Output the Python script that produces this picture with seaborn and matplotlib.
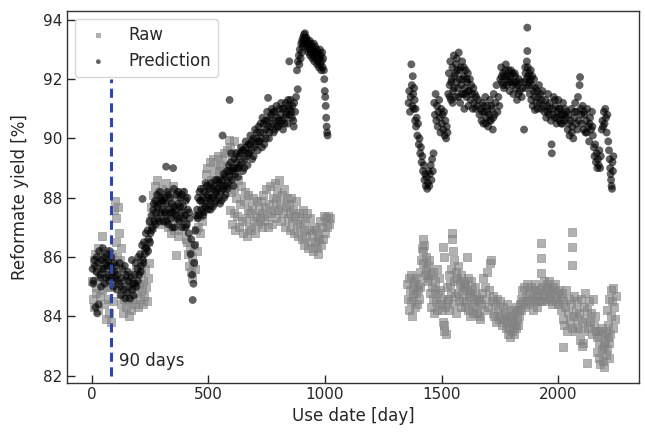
import matplotlib
matplotlib.use("Agg")
import matplotlib.pyplot as plt
import pandas as pd
import seaborn as sns

# ---- raw reformate yield, first run (day, %)
raw_day_a = [2, 5, 8, 11, 14, 17, 20, 23, 26, 29, 32, 35, 38, 41, 43, 46, 49, 52, 55, 58, 61, 64, 67, 70, 73,
             76, 79, 82, 85, 88, 91, 94, 97, 100, 103, 106, 109, 112, 115, 118, 121, 124,
             127, 130, 134, 138, 142, 146, 150, 154, 158, 162, 166, 170, 174, 178, 182, 186, 190, 194, 198,
             202, 206, 210, 214, 218, 222, 226, 230, 234, 238, 242, 246, 212, 228, 240,
             250, 254, 258, 262, 266, 270, 274, 278, 282, 286, 290, 294, 298, 302, 306, 310, 314, 318,
             322, 326, 330, 334, 338, 342, 346, 350, 354, 358, 361, 364, 368, 372, 376, 380, 384, 388, 392,
             396, 400, 404, 408, 412, 416, 420, 424, 428, 432, 436, 440, 444, 448, 452, 456, 460, 464, 468,
             472, 476, 480, 484, 488, 492, 496, 500, 504, 508, 512, 516, 520, 524, 528, 532, 536, 540, 544,
             548, 552, 556, 560, 564, 568, 572, 576, 580, 587, 593, 600, 610, 618,
             584, 588, 592, 596, 600, 604, 608, 612, 616, 620, 624, 628, 632, 636, 640, 644, 648, 652, 656,
             660, 664, 668, 672, 676, 680, 684, 688, 692, 696, 700, 704, 708, 712, 716,
             720, 724, 728, 732, 736, 740, 744, 748, 752, 756, 760, 764, 768, 772, 776, 780, 784, 788, 792,
             796, 800, 804, 808, 812, 816, 820, 824, 828, 832, 836, 840, 844, 848, 852, 856, 860, 864, 868,
             872, 876, 880, 884, 888, 892, 896, 900, 904, 908, 912, 916, 920, 924, 928, 932, 936, 940, 944,
             948, 952, 956, 960, 964, 968, 972, 976, 980, 984, 988, 992, 996, 1000, 1004, 1008, 1012, 1016, 1020]
raw_val_a = [85.2, 84.6, 85.9, 84.3, 86.1, 85.0, 84.8, 85.6, 84.2, 86.3, 85.3, 84.7, 86.0, 85.5, 86.7, 84.9, 85.8, 84.4, 85.2, 86.2, 83.9, 85.0, 85.7, 84.6, 85.4,
             84.1, 85.8, 83.8, 85.0, 86.1, 84.5, 85.3, 87.6, 87.9, 86.5, 87.3, 86.0, 87.7, 85.6, 86.8, 85.9, 86.3,
             84.4, 84.8, 84.1, 84.6, 85.0, 84.3, 84.7, 85.4, 84.0, 84.5, 84.9, 84.2, 85.3, 84.6, 85.0, 84.4, 85.6, 84.8, 84.3,
             85.1, 84.6, 85.5, 84.9, 84.4, 85.2, 84.7, 85.6, 85.0, 84.5, 85.3, 85.8, 85.9, 86.2, 86.5,
             87.2, 87.7, 87.0, 88.1, 87.5, 88.4, 87.3, 87.9, 88.6, 87.6, 88.2, 87.1, 87.8, 88.3, 87.4, 88.0, 87.2, 88.5,
             87.7, 87.0, 88.2, 87.5, 86.8, 87.9, 87.3, 88.4, 86.9, 87.6, 86.07, 88.1, 87.2, 86.7, 87.8, 87.4, 88.2, 86.9, 87.5,
             88.0, 87.1, 86.6, 86.5, 86.1, 85.7, 86.3, 85.5, 86.0, 85.3, 85.8, 86.4, 85.6, 86.9, 86.2, 87.0, 87.4, 86.8, 87.6,
             87.2, 87.9, 88.3, 87.7, 88.8, 88.0, 89.0, 88.4, 87.8, 89.2, 88.6, 88.1, 89.3, 88.7, 88.2, 89.0, 88.5, 89.4, 88.9,
             88.3, 89.1, 88.6, 89.3, 88.8, 89.5, 88.4, 89.0, 89.6, 89.95, 89.7, 89.4, 89.9, 89.5,
             88.5, 88.9, 87.6, 88.2, 87.1, 88.7, 87.5, 88.3, 86.9, 88.0, 87.4, 88.6, 87.0, 87.8, 88.4, 87.2, 86.8, 87.9, 88.2,
             87.3, 86.7, 87.6, 88.1, 87.0, 87.5, 86.9, 87.7, 88.0, 87.2, 86.8, 87.4, 87.9, 87.1, 87.6,
             87.3, 87.9, 87.0, 87.5, 88.1, 87.2, 87.7, 88.3, 87.4, 87.0, 87.8, 88.4, 87.5, 87.1, 88.0, 87.6, 88.5, 87.3, 87.9,
             88.2, 87.6, 88.6, 87.8, 87.2, 88.1, 87.5, 88.3, 87.0, 87.7, 88.0, 87.3, 87.8, 86.9, 87.5, 88.0, 87.2, 87.6, 86.8,
             87.4, 87.9, 87.1, 86.7, 87.5, 87.0, 87.3, 86.6, 87.6, 86.9, 86.4, 87.2, 86.7, 87.5, 86.3, 86.9, 87.3, 86.5, 86.8,
             86.2, 87.0, 86.5, 86.9, 86.3, 86.7, 86.1, 86.6, 87.2, 86.4, 87.0, 86.6, 87.4, 86.8, 87.3, 87.0, 87.4, 87.1, 87.3]

# ---- raw reformate yield, second run
raw_day_b = [1352, 1355, 1358, 1361, 1364, 1367, 1370, 1373, 1376, 1379, 1382, 1385, 1388, 1391, 1394, 1397, 1400, 1403, 1406,
             1409, 1412, 1415, 1418, 1420, 1422, 1425, 1428, 1431, 1434, 1437, 1440, 1443, 1446,
             1449, 1452, 1455, 1458, 1461, 1464, 1467, 1470, 1473, 1476, 1479, 1482, 1485, 1488, 1491, 1494,
             1500, 1503, 1506, 1507, 1509, 1510, 1512, 1515, 1518, 1521,
             1524, 1527, 1530, 1533, 1536, 1539, 1542, 1545, 1546, 1548, 1550, 1551, 1554, 1557, 1560, 1563, 1566,
             1569, 1572, 1575, 1578, 1581, 1584, 1587, 1590, 1593, 1596, 1599,
             1602, 1605, 1607, 1608, 1611, 1614, 1617, 1620, 1623, 1626, 1629, 1632, 1635, 1638, 1641, 1644, 1647, 1650,
             1654, 1658, 1662, 1666, 1670, 1674, 1678, 1682, 1686, 1690, 1694, 1698, 1702, 1706, 1710, 1714, 1718,
             1722, 1726, 1730, 1734, 1738, 1742, 1746, 1750, 1754, 1758, 1762, 1766, 1770, 1774, 1778,
             1781, 1784, 1787, 1790, 1793, 1796, 1799, 1802, 1805, 1808, 1811, 1814, 1817, 1820, 1823, 1826, 1829, 1832, 1835,
             1838, 1842, 1846, 1850, 1854, 1858, 1862, 1866, 1870, 1874, 1878, 1882, 1886, 1890, 1894, 1898, 1902, 1906,
             1910, 1914, 1918, 1924, 1924, 1924,
             1922, 1926, 1930, 1934, 1938, 1942, 1946, 1950, 1954, 1958, 1962, 1966, 1970, 1974, 1978, 1982, 1986, 1990,
             1994, 1998, 2002, 2006, 2057, 2057, 2057,
             2010, 2014, 2018, 2019, 2022, 2026, 2030, 2034, 2038, 2042, 2046, 2050, 2054, 2058, 2062, 2066, 2070, 2074,
             2078, 2082, 2086, 2090,
             2094, 2097, 2100, 2103, 2106, 2109, 2112, 2115, 2118, 2121, 2124, 2128, 2132, 2136, 2140, 2144, 2148, 2152,
             2156, 2160,
             2164, 2167, 2170, 2173, 2176, 2179, 2182, 2185, 2188, 2191, 2194, 2197, 2200, 2203, 2206, 2209, 2212, 2215, 2218,
             2210, 2214, 2218, 2221, 2224, 2227, 2230, 2233, 2236, 2239, 2242, 2245]
raw_val_b = [85.1, 84.6, 85.3, 84.2, 84.9, 85.4, 84.5, 84.0, 85.0, 84.7, 85.2, 84.3, 84.8, 85.3, 84.4, 84.9, 85.1, 84.6, 85.0,
             85.5, 85.9, 86.3, 86.6, 86.2, 85.8, 86.4, 85.4, 86.0, 85.6, 85.2, 85.7, 85.3, 85.9,
             84.8, 85.4, 84.3, 85.0, 84.6, 85.5, 84.1, 84.9, 85.2, 84.5, 85.6, 84.2, 84.8, 85.3, 84.4, 84.9,
             84.6, 84.2, 83.8, 86.35, 83.5, 86.0, 83.7, 84.3, 83.4, 84.5,
             85.0, 84.6, 85.4, 84.2, 85.1, 84.8, 85.6, 86.8, 86.6, 84.4, 86.2, 85.2, 85.9, 84.7, 85.5, 84.1, 85.3,
             84.8, 85.7, 84.5, 85.1, 84.3, 85.4, 84.9, 85.2, 84.6, 85.0, 84.3,
             85.1, 84.5, 86.0, 84.9, 84.2, 85.3, 84.7, 84.0, 84.8, 85.2, 84.4, 84.9, 84.1, 84.6, 85.0, 84.3, 84.7, 84.1,
             84.5, 84.0, 84.6, 83.9, 84.4, 84.8, 85.3, 84.2, 85.0, 84.6, 85.5, 84.3, 84.9, 85.8, 85.9, 84.5, 84.1,
             84.7, 84.0, 84.4, 83.8, 84.6, 84.2, 83.9, 84.5, 84.0, 83.7, 84.3, 83.9, 84.1, 83.6, 84.4,
             83.8, 83.4, 84.0, 83.6, 83.3, 83.9, 84.2, 83.5, 83.8, 84.1, 83.4, 83.7, 84.3, 83.6, 83.9, 84.2, 83.7, 84.0, 84.4,
             84.6, 84.2, 84.9, 84.5, 85.0, 84.3, 84.7, 85.1, 84.4, 84.8, 84.5, 85.0, 84.6, 84.2, 84.9, 84.5, 85.1, 84.7,
             84.3, 84.8, 84.5, 86.46, 85.96, 85.46,
             84.9, 84.5, 85.0, 84.7, 85.2, 84.6, 84.9, 85.1, 84.5, 84.8, 85.2, 84.6, 84.9, 84.4, 85.0, 84.7, 85.1, 84.5,
             84.8, 84.4, 84.9, 84.6, 86.86, 86.35, 85.73,
             84.2, 84.8, 83.9, 82.98, 84.5, 83.7, 84.3, 84.9, 83.5, 84.1, 84.6, 83.8, 84.4, 83.6, 84.0, 84.7, 83.5, 84.2,
             83.9, 84.5, 83.6, 84.1,
             83.2, 84.6, 83.0, 83.8, 83.1, 84.3, 83.5, 84.8, 83.9, 82.42, 84.2, 83.6, 84.5, 83.8, 84.1, 83.4, 84.6, 83.7,
             84.0, 83.5,
             83.3, 82.8, 83.5, 82.6, 83.1, 82.4, 83.4, 82.9, 83.6, 82.5, 83.0, 82.3, 83.2, 82.7, 83.5, 82.9, 83.3, 82.6, 83.1,
             84.2, 83.7, 84.6, 83.4, 84.9, 84.0, 84.5, 83.6, 84.95, 84.3, 83.9, 84.7]

# ---- model prediction, first run
pred_day_a = [4, 8, 12, 16, 20, 24, 28, 32, 36, 40, 44, 48, 52, 56, 60, 64, 68, 72, 76, 80, 84, 88,
              6, 14, 22, 30, 38, 46, 54, 62, 70, 78, 86,
              92, 96, 100, 104, 108, 112, 116, 120, 124, 128, 132, 136, 140, 144, 148, 152, 156, 160, 164, 168,
              172, 176, 180, 184, 188, 192, 196, 200, 98, 110, 126, 142, 158, 174, 186, 198,
              204, 208, 212, 216, 218, 220, 224, 228, 232, 236, 240, 244, 248, 252, 256, 260, 264, 268, 272, 276,
              280, 284, 288, 292, 296, 300, 210, 222, 230, 242, 250, 258, 266, 274, 282, 290, 298,
              304, 308, 312, 316, 319, 320, 324, 328, 332, 336, 340, 344, 348, 349, 352, 356, 360, 364, 368, 372,
              376, 380, 384, 388, 392, 396, 400, 404, 408, 412, 416, 420,
              306, 314, 322, 330, 338, 346, 354, 362, 370, 378, 386, 394, 402, 410, 418,
              424, 427, 430, 433, 436, 439, 442, 445, 448,
              452, 456, 460, 464, 468, 472, 476, 480, 484, 488, 492, 496, 500, 504, 508, 512, 516, 520, 524, 528,
              532, 536, 540, 544, 548, 552, 556, 560, 561, 564, 568, 572, 576,
              454, 462, 470, 478, 486, 494, 502, 510, 518, 526, 534, 542, 550, 558, 566, 574,
              580, 584, 588, 591, 592, 596, 600, 604, 608, 612, 616, 620, 624, 628, 632, 636, 640, 644, 648, 652,
              656, 660, 664, 668, 672, 676, 680, 684, 688, 692, 696, 700,
              582, 590, 598, 606, 614, 622, 630, 638, 646, 654, 662, 670, 678, 686, 694,
              704, 708, 712, 716, 720, 724, 728, 732, 736, 740, 744, 748, 752, 756, 756, 760, 764, 768, 772, 776,
              780, 784, 788, 792, 796, 800, 804, 808, 812, 816, 820, 824, 828, 832, 836, 840, 844, 847, 848, 852,
              856, 860, 864, 868, 872,
              706, 714, 722, 730, 738, 746, 754, 762, 770, 778, 786, 794, 802, 810, 818, 826, 834, 842, 850, 858, 866,
              876, 880, 883, 884, 888, 890, 892, 896, 898, 900, 902, 904, 906, 908, 910, 912, 914, 916, 918, 920,
              922, 924, 926, 928, 930, 932, 934, 936, 938, 940, 942, 944, 946, 948, 950, 952, 954, 956, 958, 960,
              962, 964, 966, 968, 970, 972, 974, 976, 978, 980, 982, 984, 986, 988, 990, 992,
              995, 997, 999, 1001, 1003, 1005, 1007, 1009, 1011]
pred_val_a = [85.6, 85.2, 85.9, 84.3, 85.5, 84.1, 85.8, 86.2, 85.4, 85.0, 85.9, 86.3, 85.6, 85.1, 85.8, 86.1, 85.4, 85.9, 85.2, 85.7, 86.0, 85.5,
              85.1, 85.7, 86.0, 84.4, 85.3, 85.6, 86.0, 85.3, 85.7, 86.2, 85.3,
              85.0, 85.8, 85.3, 85.7, 84.9, 85.4, 85.1, 85.8, 84.7, 85.3, 85.6, 84.9, 85.2, 84.6, 85.4, 84.8, 85.5, 85.0, 84.6, 85.3,
              85.9, 85.1, 84.7, 85.4, 85.8, 85.0, 85.6, 86.0, 85.5, 85.2, 85.0, 85.7, 85.2, 84.9, 85.1, 85.2,
              85.4, 86.1, 85.7, 86.4, 87.96, 85.9, 86.5, 86.1, 86.8, 86.3, 86.9, 86.6, 87.2, 86.8, 87.4, 87.0, 87.6, 87.2, 87.9, 87.5,
              88.1, 87.3, 87.8, 88.2, 87.5, 87.9, 85.5, 85.8, 86.3, 86.2, 86.5, 86.9, 87.8, 87.1, 87.7, 87.2, 88.0,
              87.6, 87.2, 88.0, 87.4, 89.05, 87.8, 88.2, 87.1, 87.6, 88.0, 87.3, 87.8, 87.5, 89.0, 88.3, 87.0, 87.6, 88.1, 87.3, 87.8,
              87.2, 88.0, 87.5, 87.0, 87.7, 88.2, 87.4, 87.9, 87.1, 87.6, 86.8, 87.3,
              87.9, 87.5, 87.2, 88.1, 87.5, 87.0, 87.7, 87.4, 88.2, 87.7, 88.1, 87.3, 87.0, 88.0, 87.5,
              86.1, 86.6, 85.4, 84.55, 85.1, 85.8, 86.4, 86.9, 87.4,
              87.6, 88.0, 87.4, 87.9, 88.3, 87.6, 88.0, 87.5, 88.2, 88.5, 87.8, 88.1, 87.6, 88.3, 87.9, 88.5, 88.0, 87.7, 88.4, 88.1,
              88.6, 87.9, 88.3, 88.0, 88.5, 88.2, 87.9, 88.6, 90.1, 88.3, 88.0, 88.7, 88.4,
              87.3, 88.2, 87.9, 87.4, 87.7, 88.4, 88.0, 87.6, 88.3, 87.8, 88.2, 88.6, 87.8, 88.4, 88.8, 88.1,
              88.9, 88.5, 89.1, 91.3, 88.7, 89.2, 88.6, 89.0, 88.4, 89.3, 88.8, 89.5, 89.0, 88.7, 89.4, 89.1, 89.7, 89.2, 88.9, 89.6,
              89.3, 89.9, 89.4, 89.1, 89.8, 89.5, 90.1, 89.6, 89.3, 90.0, 89.7, 90.3,
              88.3, 88.9, 89.5, 88.9, 89.0, 89.2, 89.0, 89.5, 89.6, 89.0, 89.7, 89.5, 89.8, 89.9, 89.4,
              89.8, 90.2, 89.6, 90.4, 89.9, 90.5, 90.0, 90.7, 90.2, 89.8, 90.6, 90.3, 90.9, 91.37, 90.4, 90.0, 90.7, 90.4, 91.0, 90.5,
              90.2, 90.9, 90.6, 91.1, 90.7, 90.4, 91.0, 90.8, 91.2, 90.6, 90.3, 91.0, 90.7, 91.2, 90.9, 90.5, 91.1, 92.6, 90.8, 91.3,
              90.9, 91.1, 90.6, 91.2, 90.9,
              90.0, 89.9, 90.2, 89.7, 90.5, 90.0, 90.6, 90.2, 90.8, 90.9, 90.3, 90.4, 90.6, 90.5, 91.0, 90.5, 90.8, 91.3, 91.0, 90.7, 90.4,
              91.4, 92.3, 91.66, 92.6, 92.8, 92.5, 93.0, 92.7, 93.2, 92.9, 93.3, 93.1, 93.4, 93.2, 93.5, 93.3, 93.55, 93.4, 93.2, 93.4,
              93.1, 93.3, 93.0, 93.2, 92.9, 93.1, 93.3, 92.8, 93.0, 93.2, 92.9, 93.1, 92.7, 93.0, 92.8, 93.2, 92.6, 92.9, 93.1, 92.7,
              92.9, 93.0, 92.5, 92.8, 92.6, 92.9, 92.4, 92.7, 93.0, 92.5, 92.8, 92.3, 92.6, 92.9, 92.4, 92.7,
              92.3, 92.0, 91.6, 91.4, 91.1, 90.7, 90.4, 90.2, 90.1]

# ---- model prediction, second run
pred_day_b = [1358, 1361, 1364, 1367, 1370, 1372, 1374, 1376, 1378, 1380, 1382, 1384, 1386, 1388, 1390, 1393, 1396, 1399,
              1402, 1405, 1408, 1411, 1414, 1417, 1420, 1423, 1426, 1429, 1432, 1435, 1438, 1441, 1444, 1447, 1450,
              1453, 1456, 1459, 1462, 1465,
              1468, 1471, 1474, 1477, 1480, 1483, 1486, 1489, 1492, 1495, 1498, 1501, 1504, 1507, 1510, 1513, 1516,
              1519, 1522, 1525,
              1528, 1531, 1534, 1537, 1540, 1543, 1546, 1549, 1552, 1555, 1558, 1561, 1564, 1567, 1570, 1573, 1576,
              1579, 1582, 1585, 1588, 1591, 1594, 1597, 1600, 1603, 1606, 1609, 1612, 1615, 1618, 1621, 1624, 1627,
              1630, 1633, 1636, 1639, 1642, 1645, 1648, 1651,
              1535, 1541, 1547, 1553, 1559, 1565, 1571, 1577, 1583, 1589, 1595, 1601, 1607, 1613,
              1657, 1662, 1667, 1671, 1675, 1679, 1683, 1687, 1691, 1695, 1699, 1703, 1707, 1711, 1715, 1719, 1723,
              1727, 1731, 1735, 1739, 1743, 1747, 1673, 1681, 1689, 1697, 1705, 1713, 1721,
              1751, 1755, 1759, 1763, 1767, 1771, 1775, 1779, 1783, 1787, 1791, 1795, 1799, 1803, 1807, 1811, 1815,
              1819, 1823, 1827, 1831, 1835, 1839, 1843, 1847,
              1757, 1765, 1773, 1781, 1789, 1797, 1805, 1813, 1821, 1829,
              1853, 1856, 1859, 1862, 1865, 1867, 1867, 1869, 1872, 1875, 1878, 1881, 1884, 1887, 1890, 1893, 1896,
              1899, 1900, 1902, 1905, 1908, 1911, 1914, 1917, 1920, 1923, 1926, 1929, 1932, 1935,
              1858, 1864, 1870, 1876, 1882, 1888,
              1940, 1944, 1948, 1952, 1956, 1960, 1964, 1968, 1971, 1972, 1976, 1980, 1984, 1988, 1992, 1996, 2000,
              2004, 2008, 2012, 2016, 2020, 2024, 2028, 2032, 2036,
              1954, 1962, 1978, 1986, 1994, 2002, 2010, 2018, 2026,
              2040, 2044, 2048, 2052, 2056, 2060, 2064, 2068, 2072, 2076, 2080, 2084, 2088, 2091, 2093, 2096, 2100,
              2104, 2108, 2112, 2116, 2120, 2124, 2128, 2132, 2136, 2140, 2144, 2148,
              2046, 2058, 2070, 2082, 2098, 2110, 2122, 2134, 2146,
              2152, 2155, 2158, 2161, 2164, 2167, 2170, 2173, 2176, 2179, 2182,
              2186, 2189, 2192, 2195, 2198, 2201, 2204, 2207, 2210,
              2214, 2217, 2220, 2222, 2224, 2226, 2228, 2230, 2232, 2234, 2236]
pred_val_b = [91.2, 91.6, 90.9, 91.4, 92.5, 91.8, 91.1, 92.1, 91.5, 91.0, 91.7, 91.3, 90.6, 91.0, 90.4, 90.7, 90.1, 90.5,
              89.8, 90.0, 89.5, 89.7, 89.2, 89.4, 88.9, 89.1, 88.6, 88.8, 88.4, 88.7, 88.3, 88.5, 88.9, 88.4, 88.8,
              89.1, 88.6, 89.3, 88.9, 89.5,
              91.2, 90.8, 91.5, 90.6, 91.1, 90.4, 90.9, 91.3, 90.7, 90.2, 91.0, 90.5, 90.8, 90.3, 90.9, 90.1, 90.6,
              90.0, 90.4, 90.2,
              91.5, 92.2, 91.8, 92.6, 91.3, 92.0, 92.4, 91.6, 92.8, 92.1, 91.4, 92.5, 91.9, 92.3, 91.7, 92.9, 92.0,
              91.2, 92.4, 91.8, 92.6, 91.5, 92.1, 91.0, 91.7, 92.3, 91.4, 91.9, 92.2, 91.1, 91.6, 92.0, 91.3, 91.8,
              91.5, 91.0, 91.7, 91.2, 91.5, 91.0, 91.4, 91.1,
              91.4, 91.9, 91.2, 91.7, 92.2, 92.7, 91.4, 92.3, 91.5, 92.0, 92.4, 91.5, 92.0, 91.6,
              91.3, 90.8, 91.0, 90.6, 91.2, 90.5, 90.9, 91.4, 90.7, 91.1, 90.4, 90.8, 91.3, 90.6, 91.0, 90.3, 91.5,
              90.8, 91.2, 91.8, 90.9, 91.4, 91.1, 90.9, 91.1, 90.5, 90.9, 90.6, 91.1, 90.7,
              92.0, 92.4, 91.9, 92.2, 91.7, 92.1, 92.5, 91.8, 92.0, 92.3, 91.6, 92.1, 91.9, 92.2, 91.5, 91.9, 92.1,
              91.7, 91.3, 91.8, 92.0, 91.6, 91.9, 91.4, 91.7,
              92.1, 91.8, 92.3, 92.1, 91.9, 92.3, 91.8, 92.2, 91.9, 91.5,
              90.3, 91.9, 92.2, 91.7, 92.6, 93.74, 92.95, 92.4, 91.8, 92.2, 91.5, 92.0, 91.3, 91.8, 91.1, 91.6, 92.0,
              91.4, 90.96, 91.7, 91.2, 91.6, 91.0, 91.4, 91.8, 91.2, 91.5, 91.0, 91.3, 91.6, 91.1,
              92.4, 92.0, 92.1, 91.9, 92.3, 92.1,
              90.9, 91.3, 90.7, 91.1, 91.5, 90.8, 91.2, 90.6, 89.8, 89.5, 91.0, 91.4, 90.7, 91.1, 90.5, 90.9, 91.3,
              90.6, 91.0, 90.5, 90.8, 91.2, 90.6, 91.0, 90.7, 90.9,
              90.9, 91.0, 90.8, 91.3, 90.7, 91.0, 90.8, 90.5, 90.8,
              90.3, 90.8, 90.1, 90.6, 91.0, 90.4, 90.0, 90.7, 91.2, 90.5, 90.9, 91.4, 90.6, 91.8, 92.07, 91.0, 90.5,
              91.1, 90.3, 90.8, 90.2, 90.6, 91.0, 90.4, 89.9, 90.7, 90.3, 90.9, 90.1,
              90.5, 90.2, 90.9, 90.3, 90.8, 90.9, 90.2, 90.5, 90.4,
              89.7, 89.4, 89.8, 89.2, 89.5, 89.0, 89.3, 89.1, 89.6, 89.0, 89.4,
              90.3, 90.6, 90.4, 90.9, 90.5, 91.0, 90.7, 90.2, 90.8,
              89.9, 89.6, 89.3, 89.0, 88.8, 88.6, 88.4, 88.3, 89.2, 88.9, 89.4]

cut_day = 82  # where the dashed marker sits on the axis ("90 days")

raw = pd.DataFrame({"day": raw_day_a + raw_day_b, "yield": raw_val_a + raw_val_b})
pred = pd.DataFrame({"day": pred_day_a + pred_day_b, "yield": pred_val_a + pred_val_b})

sns.set_style("white")
plt.rcParams["font.family"] = ["DejaVu Sans"]

fig, ax = plt.subplots(figsize=(6.45, 4.32), dpi=100)
fig.subplots_adjust(left=0.1034, right=0.9912, bottom=0.1141, top=0.9752)

sns.scatterplot(data=raw, x="day", y="yield", marker="s", color="gray", alpha=0.6,
                s=30, edgecolor="gray", linewidth=0.6, label="Raw", ax=ax)
sns.scatterplot(data=pred, x="day", y="yield", marker="o", color="black", alpha=0.62,
                s=32, edgecolor="none", label="Prediction", ax=ax)

ax.vlines(cut_day, 82, 92, colors="#2f45b0", linestyles=(0, (3, 1.8)), linewidth=2.2)
ax.text(117, 82.5, "90 days", fontsize=12, va="center")

ax.set_xlim(-107, 2347)
ax.set_ylim(81.76, 94.31)
ax.set_xticks([0, 500, 1000, 1500, 2000])
ax.set_yticks([82, 84, 86, 88, 90, 92, 94])
ax.set_xlabel("Use date [day]", fontsize=12)
ax.set_ylabel("Reformate yield [%]", fontsize=12, labelpad=10)
ax.tick_params(direction="in", length=5.5, width=1, labelsize=11, pad=3,
               bottom=True, left=True, colors="0.15")
for sp in ax.spines.values():
    sp.set_color("0.2")
    sp.set_linewidth(1)

ax.legend(loc="upper left", fontsize=12, markerscale=0.6, frameon=True,
          edgecolor="0.8", handletextpad=0.8)

fig.savefig("out.png", dpi=100)
